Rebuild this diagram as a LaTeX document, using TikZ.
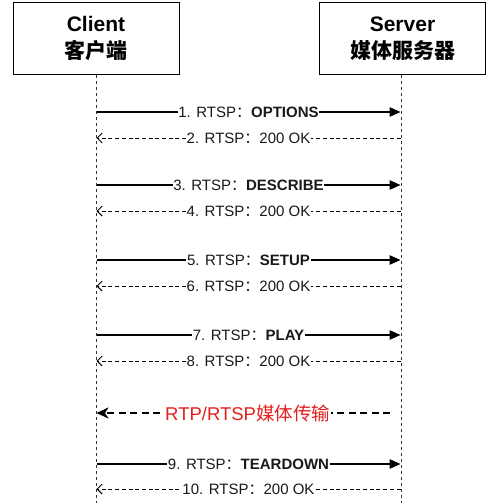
\documentclass[tikz,border=0pt]{standalone}
\usepackage{fontspec}
\setmainfont{Liberation Sans}
\newfontfamily\cjk{Noto Sans CJK SC}
\usetikzlibrary{arrows.meta}
\definecolor{mediared}{RGB}{226,32,28}
\tikzset{
  actor/.style={draw=black, line width=1pt, fill=white, minimum width=166pt, minimum height=72pt, align=center, inner sep=0pt, font=\fontsize{21}{27}\selectfont\bfseries},
  lifeline/.style={draw=black!80, line width=0.8pt, dash pattern=on 3pt off 3pt},
  req/.style={draw=black, line width=1.2pt, -{Triangle[length=11pt,width=9.5pt]}},
  resp/.style={draw=black, line width=0.9pt, dash pattern=on 4pt off 2.7pt, -{Straight Barb[length=5pt,width=10pt,line width=1pt]}},
  media/.style={draw=black, line width=2.2pt, dash pattern=on 7pt off 4.5pt, -{Stealth[length=12pt,width=11pt,inset=3.5pt]}},
  lbl/.style={fill=white, inner xsep=0.6pt, inner ysep=1pt, font=\fontsize{15}{17}\selectfont, text=black!90},
  mlbl/.style={fill=white, inner xsep=1pt, inner ysep=1pt, font=\fontsize{18.5}{20}\selectfont, text=mediared}
}
\begin{document}
\begin{tikzpicture}[x=1pt, y=-1pt]
\useasboundingbox (0,0) rectangle (500,503);
\fill[white] (0,0) rectangle (500,503);
% actors
\node[actor] (client) at (96,38.5) {Client\\{\cjk 客户端}};
\node[actor] (server) at (402.5,38.5) {Server\\{\cjk 媒体服务器}};
\coordinate (cbot) at (96,503);
\coordinate (sbot) at (401,503);
\coordinate (stop) at (401,74.5);
\draw[lifeline] (client.south) -- (cbot);
\draw[lifeline] (stop) -- (sbot);
% message coordinates
\foreach \n/\y in {1/112,2/138,3/185,4/211,5/260,6/286,7/335,8/361,9/464,10/489}{
  \coordinate (c\n) at (96.5,\y);
  \coordinate (s\n) at (400.5,\y);
}
\coordinate (cm) at (96.5,413);
\coordinate (sm) at (390,413);
% requests
\draw[req] (c1) -- node[lbl] (l1) {1. RTSP{\cjk ：}\textbf{OPTIONS}} (s1);
\draw[resp] (s2) -- node[lbl] (l2) {2. RTSP{\cjk ：}200 OK} (c2);
\draw[req] (c3) -- node[lbl] (l3) {3. RTSP{\cjk ：}\textbf{DESCRIBE}} (s3);
\draw[resp] (s4) -- node[lbl] (l4) {4. RTSP{\cjk ：}200 OK} (c4);
\draw[req] (c5) -- node[lbl] (l5) {5. RTSP{\cjk ：}\textbf{SETUP}} (s5);
\draw[resp] (s6) -- node[lbl] (l6) {6. RTSP{\cjk ：}200 OK} (c6);
\draw[req] (c7) -- node[lbl] (l7) {7. RTSP{\cjk ：}\textbf{PLAY}} (s7);
\draw[resp] (s8) -- node[lbl] (l8) {8. RTSP{\cjk ：}200 OK} (c8);
\draw[media] (sm) -- node[mlbl, pos=0.485] (lm) {RTP/RTSP{\cjk 媒体传输}} (cm);
\draw[req] (c9) -- node[lbl] (l9) {9. RTSP{\cjk ：}\textbf{TEARDOWN}} (s9);
\draw[resp] (s10) -- node[lbl] (l10) {10. RTSP{\cjk ：}200 OK} (c10);
\end{tikzpicture}
\end{document}
